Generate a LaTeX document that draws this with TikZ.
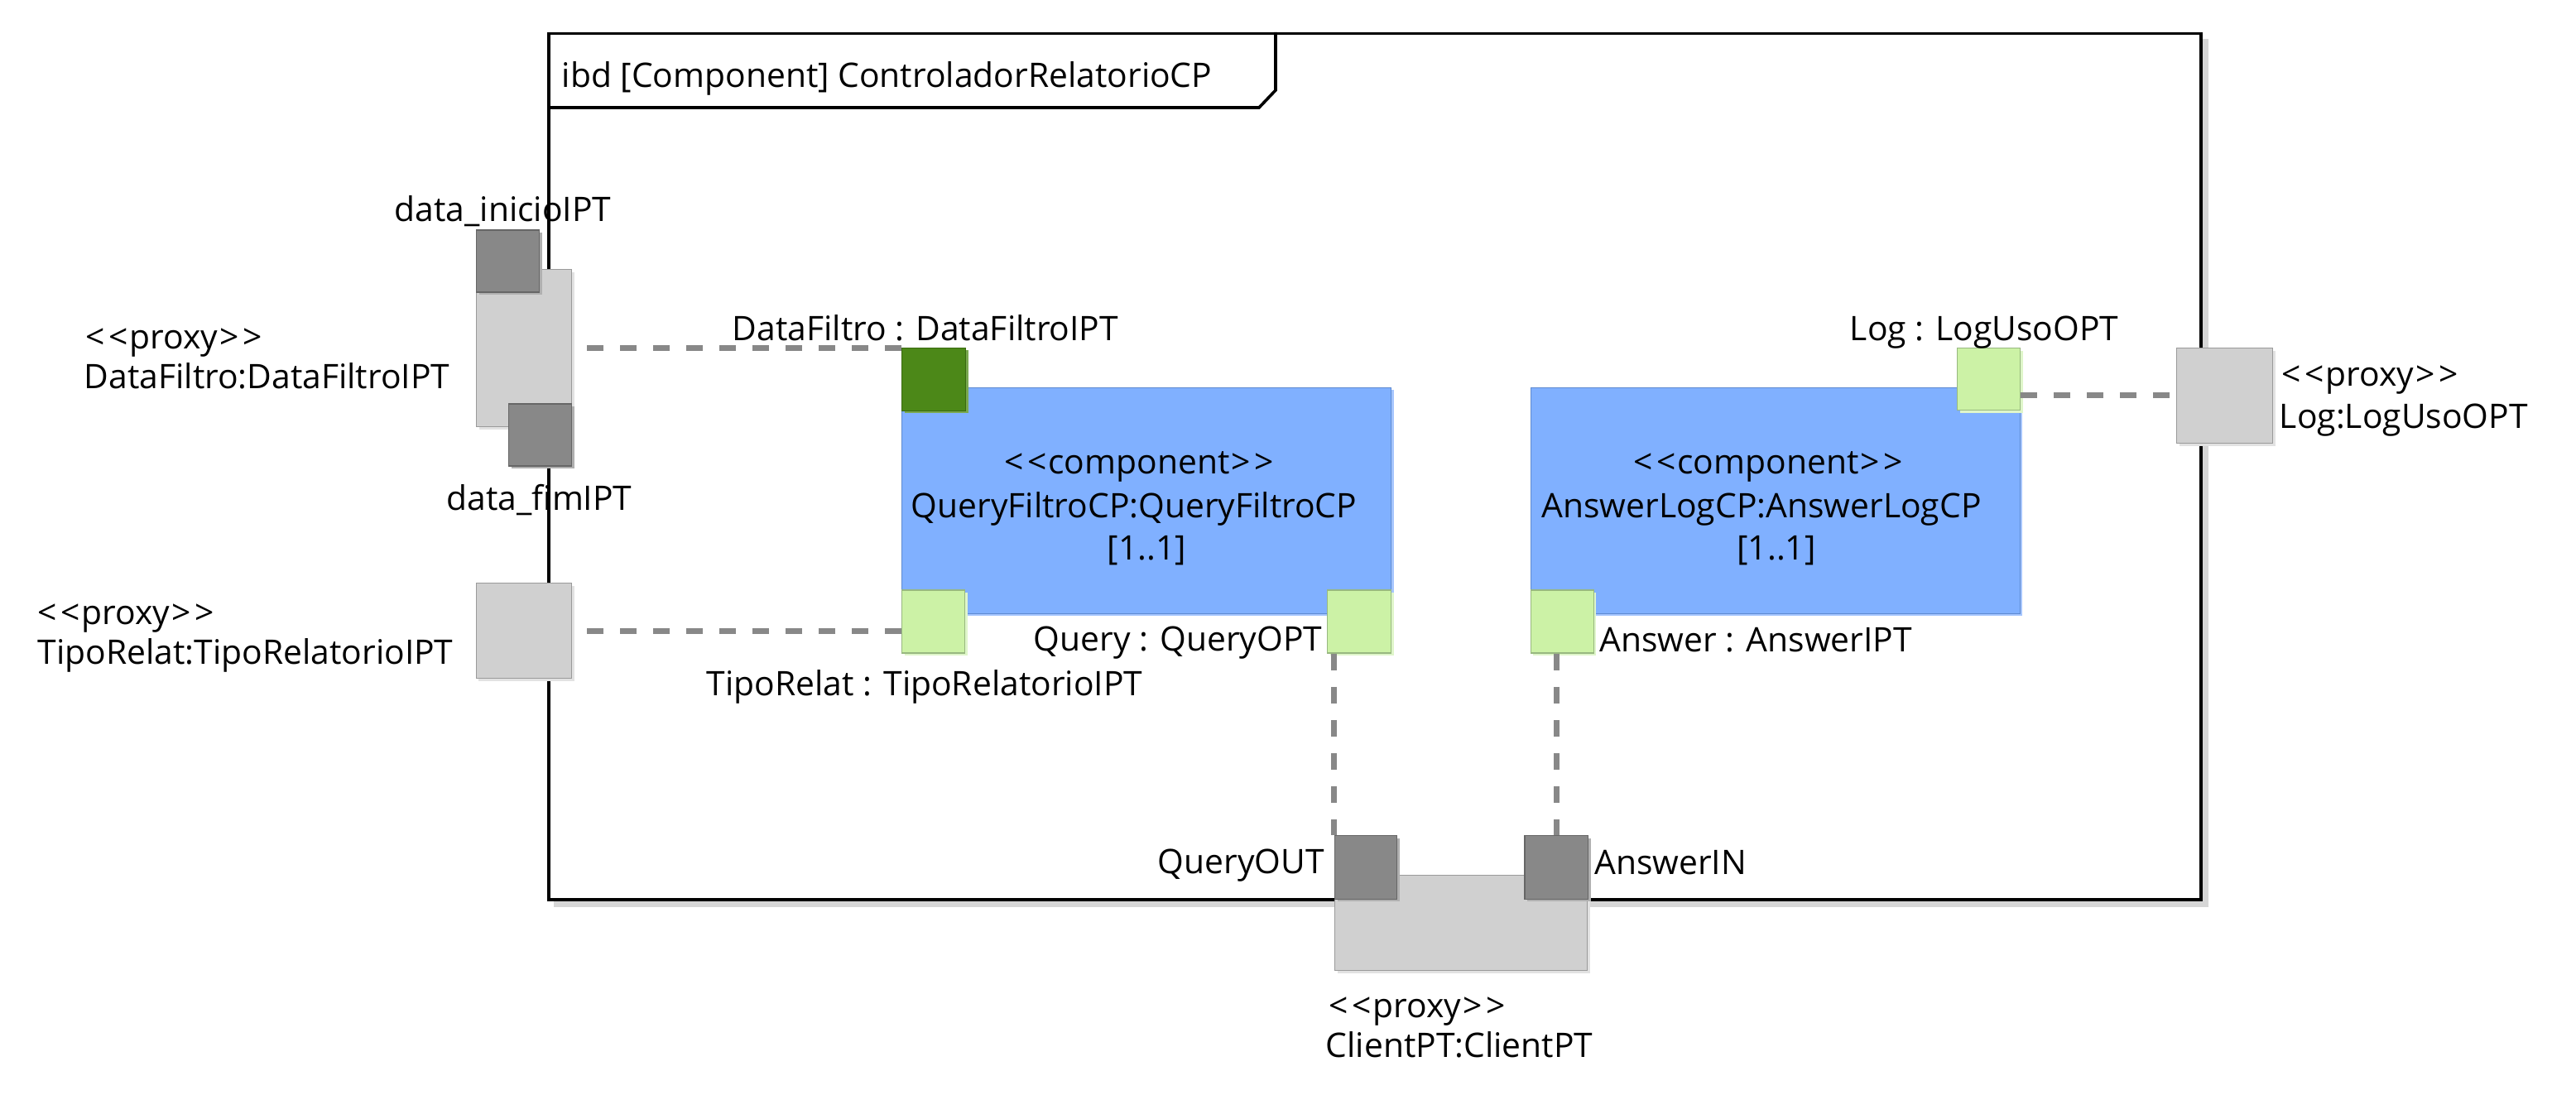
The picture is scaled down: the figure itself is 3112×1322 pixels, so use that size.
\documentclass[tikz,border=0pt]{standalone}
\usepackage{fontspec}
\newfontfamily\umlfont{Open Sans}
\usetikzlibrary{shadows}
\definecolor{compblue}{HTML}{80B0FF}
\definecolor{compbluedraw}{HTML}{5E8AD0}
\definecolor{compbluesh}{HTML}{A6C6FF}
\definecolor{dkgreen}{HTML}{4C8818}
\definecolor{dkgreendraw}{HTML}{3A6A10}
\definecolor{dkgreensh}{HTML}{7AA850}
\definecolor{ltgreen}{HTML}{CCF2A6}
\definecolor{ltgreendraw}{HTML}{98B880}
\definecolor{ltgreensh}{HTML}{DFF6CA}
\definecolor{portgray}{HTML}{888888}
\definecolor{portgraydraw}{HTML}{666666}
\definecolor{portgraysh}{HTML}{B0B0B0}
\definecolor{proxygray}{HTML}{D0D0D0}
\definecolor{proxygraydraw}{HTML}{9A9A9A}
\definecolor{proxygraysh}{HTML}{E2E2E2}
\definecolor{dashgray}{HTML}{888888}
\definecolor{framesh}{HTML}{D6D6D6}
\newcommand\umlbox[6]{\node[#2, minimum width=#5*0.25pt, minimum height=#6*0.25pt] (#1) at (#3,#4) {};}
\newcommand\stereo[1]{<\kern1.2pt<\kern0.4pt#1\kern0.4pt>\kern1.2pt>}
\begin{document}
\begin{tikzpicture}[x=0.25pt,y=-0.25pt,
  blk/.style={rectangle, inner sep=0pt, anchor=north west, line width=0.35pt},
  comp/.style={blk, fill=compblue, draw=compbluedraw, drop shadow={shadow xshift=0.8pt, shadow yshift=-0.8pt, fill=compbluesh, opacity=1}},
  dkport/.style={blk, fill=dkgreen, draw=dkgreendraw, drop shadow={shadow xshift=0.8pt, shadow yshift=-0.8pt, fill=dkgreensh, opacity=1}},
  ltport/.style={blk, fill=ltgreen, draw=ltgreendraw, drop shadow={shadow xshift=0.8pt, shadow yshift=-0.8pt, fill=ltgreensh, opacity=1}},
  gyport/.style={blk, fill=portgray, draw=portgraydraw, drop shadow={shadow xshift=0.8pt, shadow yshift=-0.8pt, fill=portgraysh, opacity=1}},
  proxybox/.style={blk, fill=proxygray, draw=proxygraydraw, drop shadow={shadow xshift=0.8pt, shadow yshift=-0.8pt, fill=proxygraysh, opacity=1}},
  lbl/.style={font=\umlfont\fontsize{10.2}{12}\selectfont, inner sep=0pt, text height=7.3pt, text depth=0pt},
  conn/.style={draw=dashgray, line width=1.75pt, dash pattern=on 5pt off 5pt},
  frameline/.style={draw=black, line width=0.9pt}
]
\useasboundingbox (0,0) rectangle (3112,1322);
% frame with shadow
\fill[framesh] (669,47) rectangle (2668,1096);
\node[blk, fill=white, frameline, minimum width=1996*0.25pt, minimum height=1046.2*0.25pt] (frame) at (661,38.8) {};
\draw[frameline] (frame.north west -| 1541,0) -- (1541,109) -- (1521,130) -- (frame.west |- 0,130);
\node[lbl, anchor=west] (title) at (678,90.6) {ibd [Component] ControladorRelatorioCP};

% components
\umlbox{qfbox}{comp}{1089}{467.5}{591}{273}
\umlbox{albox}{comp}{1848.5}{468}{591}{272.5}
\node[lbl] (qfst) at (1376,558) {\stereo{component}};
\node[lbl] (qfname) at (1370,611) {QueryFiltroCP:QueryFiltroCP};
\node[lbl] (qfmult) at (1385.5,661.5) {[1..1]};
\node[lbl] (alst) at (2136,558) {\stereo{component}};
\node[lbl] (alname) at (2128,611) {AnswerLogCP:AnswerLogCP};
\node[lbl] (almult) at (2146,661.5) {[1..1]};

% ports on components
\umlbox{dfport}{dkport}{1088.6}{419.5}{77}{76}
\umlbox{trport}{ltport}{1089}{712.4}{76}{76}
\umlbox{qport}{ltport}{1603}{712.4}{77}{76}
\umlbox{aport}{ltport}{1848.5}{712.4}{76}{76}
\umlbox{lport}{ltport}{2363.6}{419.6}{76}{75}

% boundary proxies and ports
\umlbox{dfproxy}{proxybox}{574.6}{324.6}{115}{190}
\umlbox{dinit}{gyport}{574.6}{277.4}{76}{75}
\umlbox{dfim}{gyport}{614}{487.4}{76}{75}
\umlbox{trproxy}{proxybox}{574.5}{704}{115.5}{115}
\umlbox{lproxy}{proxybox}{2628.8}{419.6}{116}{115}
\umlbox{cproxy}{proxybox}{1611.7}{1057}{305.3}{115}
\umlbox{qout}{gyport}{1611.7}{1009}{75}{76.5}
\umlbox{ain}{gyport}{1841.3}{1009}{76.6}{76.5}

% labels
\node[lbl, anchor=west] (ldinit) at (476,253) {data\_inicioIPT};
\node[lbl, anchor=west] (ldfst) at (103,407) {\stereo{proxy}};
\node[lbl, anchor=west] (ldfname) at (101,455) {DataFiltro:DataFiltroIPT};
\node[lbl, anchor=west] (ldfim) at (539,602) {data\_fimIPT};
\node[lbl, anchor=west] (ldfport) at (884,397) {DataFiltro : DataFiltroIPT};
\node[lbl, anchor=west] (ltrst) at (45,740) {\stereo{proxy}};
\node[lbl, anchor=west] (ltrname) at (45,788) {TipoRelat:TipoRelatorioIPT};
\node[lbl, anchor=west] (ltrport) at (853,826) {TipoRelat : TipoRelatorioIPT};
\node[lbl, anchor=west] (lqport) at (1248,772) {Query : QueryOPT};
\node[lbl, anchor=west] (laport) at (1931.8,773) {Answer : AnswerIPT};
\node[lbl, anchor=west] (llport) at (2234,397) {Log : LogUsoOPT};
\node[lbl, anchor=west] (llst) at (2756,452) {\stereo{proxy}};
\node[lbl, anchor=west] (llname) at (2753,503) {Log:LogUsoOPT};
\node[lbl, anchor=east] (lqout) at (1600.7,1041) {QueryOUT};
\node[lbl, anchor=west] (lain) at (1925.5,1042) {AnswerIN};
\node[lbl, anchor=west] (lcst) at (1605,1215) {\stereo{proxy}};
\node[lbl, anchor=west] (lcname) at (1601,1263) {ClientPT:ClientPT};

% connectors
\draw[conn] (dfport.west |- dfproxy.east) -- (dfproxy.east);
\draw[conn] (trport.west |- trproxy.east) -- (trproxy.east);
\draw[conn] (lport.east |- lproxy.west) -- (lproxy.west);
\draw[conn] (qport.south -| qout.north west) -- (qout.north west);
\draw[conn] (aport.south -| ain.north) -- (ain.north);
\end{tikzpicture}
\end{document}
